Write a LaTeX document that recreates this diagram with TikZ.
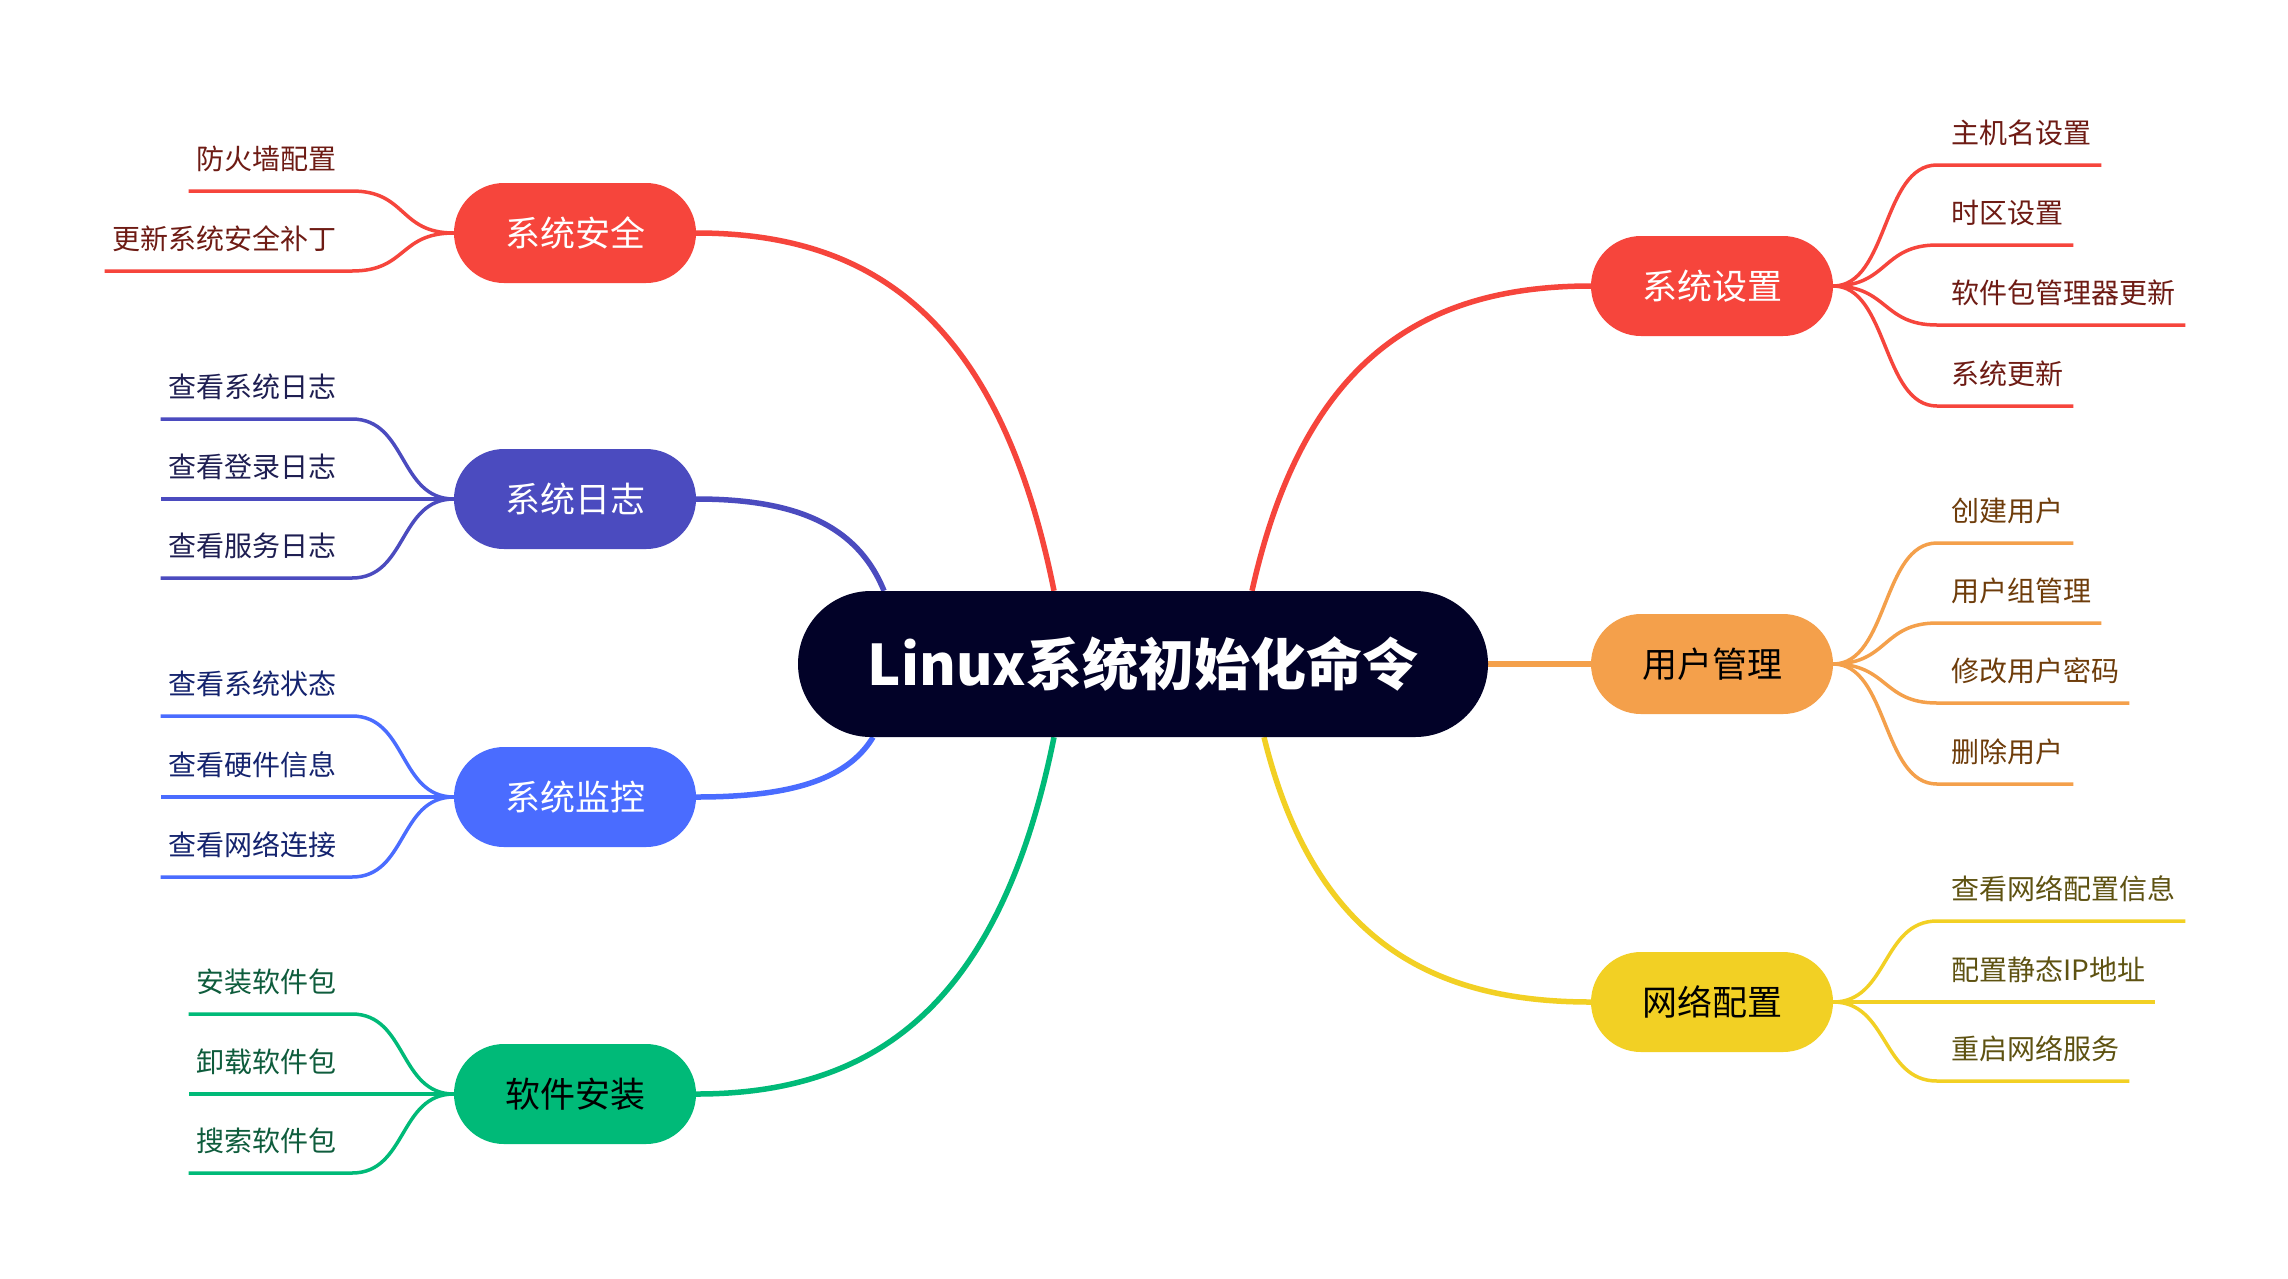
\documentclass[tikz,border=0pt]{standalone}
\usepackage{fontspec}
\newfontfamily\cjk{Noto Sans CJK SC}
\usetikzlibrary{calc}
\pgfdeclarelayer{bgfill}
\pgfdeclarelayer{lines}
\pgfsetlayers{bgfill,lines,main}
\definecolor{cRed}{HTML}{F6453C}
\definecolor{cOrange}{HTML}{F4A04B}
\definecolor{cYellow}{HTML}{F2D024}
\definecolor{cIndigo}{HTML}{4B4BBF}
\definecolor{cBlue}{HTML}{4A6CFF}
\definecolor{cGreen}{HTML}{00BA78}
\definecolor{cDark}{HTML}{020228}
\definecolor{tRed}{HTML}{6E1B14}
\definecolor{tOrange}{HTML}{6E3C0A}
\definecolor{tYellow}{HTML}{5E5211}
\definecolor{tIndigo}{HTML}{1E1E52}
\definecolor{tBlue}{HTML}{14236E}
\definecolor{tGreen}{HTML}{0E5C3C}
\tikzset{
  topic/.style={fill=#1, rounded corners=50pt, minimum width=242pt, minimum height=100pt, inner sep=0pt, font=\cjk\fontsize{35}{40}\selectfont},
  leafR/.style={anchor=west, inner sep=0pt, font=\cjk\fontsize{28}{32}\selectfont},
  leafL/.style={anchor=east, inner sep=0pt, font=\cjk\fontsize{28}{32}\selectfont},
  mainline/.style={line width=5.5pt},
  subline/.style={line width=3.5pt},
}
\newcommand\rleafitem[6]{%
  \coordinate (#2a) at (1937,#3);
  \node[leafR,text=#5] (#2) at (1951,#3-32) {#6};
  \begin{pgfonlayer}{lines}
  \draw[subline,#4] (#1.east) .. controls +(55,0) and +(-55,0) .. (#2a) -- ([xshift=10pt]#2.east |- #2a);
  \end{pgfonlayer}
}
\newcommand\lleafitem[6]{%
  \coordinate (#2a) at (352,#3);
  \node[leafL,text=#5] (#2) at (337,#3-32) {#6};
  \begin{pgfonlayer}{lines}
  \draw[subline,#4] (#1.west) .. controls +(-55,0) and +(55,0) .. (#2a) -- ([xshift=-8pt]#2.west |- #2a);
  \end{pgfonlayer}
}
\begin{document}
\begin{tikzpicture}[x=1pt,y=-1pt]
\useasboundingbox (0,0) rectangle (2288,1278);
\begin{pgfonlayer}{bgfill}
\fill[white] (0,0) rectangle (2288,1278);
\end{pgfonlayer}
% central
\node[fill=cDark, rounded corners=73pt, minimum width=690pt, minimum height=146pt, inner sep=0pt, text=white, font=\cjk\bfseries\fontsize{56}{60}\selectfont] (c) at (1143,664) {Linux系统初始化命令};
% topics
\node[topic=cRed, text=white] (sz) at (1712,286) {系统设置};
\node[topic=cOrange, text=black] (yh) at (1712,664) {用户管理};
\node[topic=cYellow, text=black] (wl) at (1712,1002) {网络配置};
\node[topic=cRed, text=white] (aq) at (575,233) {系统安全};
\node[topic=cIndigo, text=white] (rz) at (575,499) {系统日志};
\node[topic=cBlue, text=white] (jk) at (575,797) {系统监控};
\node[topic=cGreen, text=black] (rj) at (575,1094) {软件安装};
% main connectors
\begin{pgfonlayer}{lines}
\draw[mainline,cRed] ([xshift=109pt]c.north) .. controls +(51,-229) and +(-170,0) .. (sz.west);
\draw[mainline,cOrange] (c.east) -- (yh.west);
\draw[mainline,cYellow] ([xshift=121pt]c.south) .. controls +(49,199) and +(-164,0) .. (wl.west);
\draw[mainline,cRed] ([xshift=-89pt]c.north) .. controls +(-54,-269) and +(179,0) .. (aq.east);
\draw[mainline,cIndigo] ([xshift=-259pt]c.north) .. controls +(-28,-69) and +(94,0) .. (rz.east);
\draw[mainline,cBlue] ([xshift=-270pt]c.south) .. controls +(-27,45) and +(88,0) .. (jk.east);
\draw[mainline,cGreen] ([xshift=-89pt]c.south) .. controls +(-54,268) and +(179,0) .. (rj.east);
\end{pgfonlayer}
% leaves right
\rleafitem{sz}{s1}{165}{cRed}{tRed}{主机名设置}
\rleafitem{sz}{s2}{245}{cRed}{tRed}{时区设置}
\rleafitem{sz}{s3}{325}{cRed}{tRed}{软件包管理器更新}
\rleafitem{sz}{s4}{406}{cRed}{tRed}{系统更新}
\rleafitem{yh}{u1}{543}{cOrange}{tOrange}{创建用户}
\rleafitem{yh}{u2}{623}{cOrange}{tOrange}{用户组管理}
\rleafitem{yh}{u3}{703}{cOrange}{tOrange}{修改用户密码}
\rleafitem{yh}{u4}{784}{cOrange}{tOrange}{删除用户}
\rleafitem{wl}{n1}{921}{cYellow}{tYellow}{查看网络配置信息}
\rleafitem{wl}{n2}{1002}{cYellow}{tYellow}{配置静态IP地址}
\rleafitem{wl}{n3}{1081}{cYellow}{tYellow}{重启网络服务}
% leaves left
\lleafitem{aq}{a1}{191}{cRed}{tRed}{防火墙配置}
\lleafitem{aq}{a2}{271}{cRed}{tRed}{更新系统安全补丁}
\lleafitem{rz}{r1}{419}{cIndigo}{tIndigo}{查看系统日志}
\lleafitem{rz}{r2}{499}{cIndigo}{tIndigo}{查看登录日志}
\lleafitem{rz}{r3}{578}{cIndigo}{tIndigo}{查看服务日志}
\lleafitem{jk}{m1}{716}{cBlue}{tBlue}{查看系统状态}
\lleafitem{jk}{m2}{797}{cBlue}{tBlue}{查看硬件信息}
\lleafitem{jk}{m3}{877}{cBlue}{tBlue}{查看网络连接}
\lleafitem{rj}{g1}{1014}{cGreen}{tGreen}{安装软件包}
\lleafitem{rj}{g2}{1094}{cGreen}{tGreen}{卸载软件包}
\lleafitem{rj}{g3}{1173}{cGreen}{tGreen}{搜索软件包}
\end{tikzpicture}
\end{document}
